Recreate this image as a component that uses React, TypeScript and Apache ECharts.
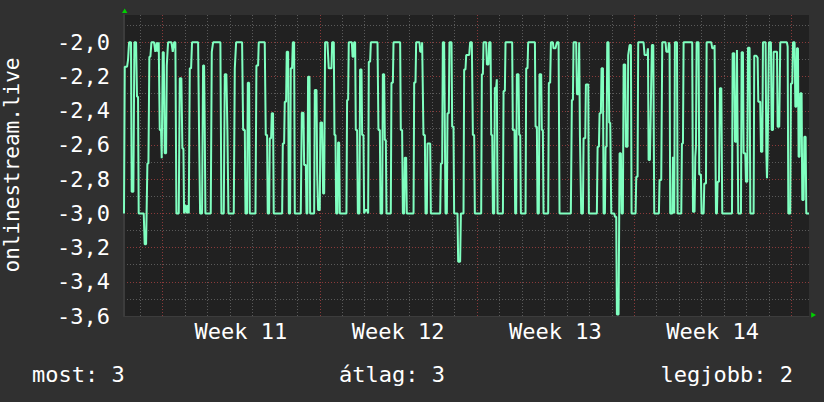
import React, { useEffect, useRef } from "react";
import * as echarts from "echarts";

const FONT = "'DejaVu Sans Mono', monospace";

const axisTitle = "onlinestream.live";
const weekStarts = [0, 168, 336, 504, 672];
const weekMids = [84, 252, 420, 588];
const weekLabels = ["Week 11", "Week 12", "Week 13", "Week 14"];
const dayLines = [-24, 24, 48, 72, 96, 120, 144, 192, 216, 240, 264, 288, 312, 360, 384, 408, 432, 456, 480, 528, 552, 576, 600, 624, 648];
const legendTexts = ["most: 3", "átlag: 3", "legjobb: 2"];

// [hour since start of week 11, value]
const samples: [number, number][] = [
  [-41, -3.0], [-40.2, -2.142], [-37.7, -2.142], [-36.7, -2.103], [-35.6, -2.0], [-33.5, -2.0], [-32.8, -2.873], [-31.0, -2.873],
  [-29.9, -2.0], [-28.1, -2.0], [-27.1, -2.318], [-26.0, -2.318], [-25.3, -3.0], [-19.9, -3.0], [-18.9, -3.181], [-17.4, -3.181],
  [-16.0, -2.708], [-14.9, -2.708], [-13.9, -2.084], [-12.8, -2.084], [-11.7, -2.0], [-8.9, -2.0], [-7.5, -2.055], [-6.0, -2.0],
  [-5.0, -2.055], [-3.9, -2.0], [-2.8, -2.513], [-1.4, -2.513], [-0.7, -2.678], [0.4, -2.058], [1.5, -2.058], [2.5, -2.649],
  [4.0, -2.649], [4.7, -2.136], [6.1, -2.0], [9.7, -2.0], [11.1, -2.055], [12.5, -2.0], [13.9, -2.0], [15.0, -3.0],
  [17.5, -3.0], [18.6, -2.21], [20.3, -2.21], [21.4, -2.62], [22.5, -2.62], [23.2, -3.0], [24.6, -2.951], [26.0, -3.0],
  [27.1, -2.951], [28.2, -3.0], [29.3, -2.152], [30.7, -2.152], [31.7, -2.0], [38.2, -2.0], [39.2, -2.513], [40.3, -3.0],
  [42.4, -3.0], [43.5, -2.136], [44.6, -2.136], [45.3, -2.522], [46.0, -3.0], [51.7, -3.0], [52.8, -2.055], [54.2, -2.0],
  [62.0, -2.0], [63.1, -3.0], [65.6, -3.0], [66.7, -2.187], [68.4, -2.187], [69.5, -2.513], [70.6, -3.0], [76.3, -3.0],
  [77.4, -2.152], [78.8, -2.0],
  [85.2, -2.0], [86.3, -2.513], [88.1, -2.513], [88.8, -3.0], [90.5, -3.0], [91.3, -2.236], [92.7, -2.236], [93.4, -3.0],
  [99.5, -3.0], [100.5, -2.136], [102.3, -2.136], [103.0, -2.0], [109.4, -2.0], [110.5, -2.542], [111.9, -2.542], [112.6, -3.0],
  [114.1, -3.0], [114.8, -2.561], [116.2, -2.561], [116.9, -2.415], [118.3, -2.415], [119.0, -3.0], [128.0, -3.0], [128.7, -2.591],
  [130.1, -2.591], [130.8, -2.347], [132.2, -2.347], [132.9, -2.055], [134.4, -2.055], [135.1, -3.0], [136.5, -3.0], [137.2, -2.152],
  [138.6, -2.152], [139.4, -2.0], [140.8, -2.0], [141.5, -3.0], [147.9, -3.0], [149.0, -2.411], [150.8, -2.411], [151.5, -2.717],
  [153.3, -2.717], [154.0, -3.0], [155.0, -3.0], [155.7, -2.201], [157.2, -2.201], [157.9, -3.0], [162.2, -3.0], [162.9, -2.279],
  [164.7, -2.279], [165.4, -2.756], [166.4, -2.98], [168.2, -2.98], [168.9, -2.468], [170.7, -2.468], [171.8, -2.883], [172.9, -2.883],
  [173.9, -2.0], [176.4, -2.0], [177.8, -2.152], [180.7, -2.152], [181.4, -2.0], [183.2, -2.0], [183.9, -2.542], [185.0, -2.542],
  [185.7, -3.0], [187.1, -3.0], [187.8, -2.585], [188.9, -2.585], [189.6, -3.0], [196.7, -3.0], [197.4, -2.337], [198.5, -2.337],
  [199.2, -2.0], [202.5, -2.0], [203.2, -2.084], [204.2, -2.084], [204.9, -2.0], [206.0, -2.0],
  [206.7, -2.513], [208.1, -2.513], [208.9, -3.0], [210.6, -3.0], [211.3, -2.158], [212.8, -2.158], [213.5, -2.542], [214.9, -2.542],
  [215.6, -3.0], [217.0, -2.98], [218.5, -2.98], [219.9, -3.0], [220.6, -2.113], [222.0, -2.113], [222.8, -2.0], [229.9, -2.0],
  [230.9, -2.513], [232.4, -2.513], [233.1, -3.0], [234.9, -3.0], [235.6, -2.187], [237.0, -2.187], [237.7, -2.571], [238.8, -2.571],
  [239.5, -3.0], [244.1, -3.0], [244.8, -2.236], [246.3, -2.236], [247.0, -2.0], [254.1, -2.0], [254.8, -2.513], [256.2, -2.513],
  [257.0, -3.0], [258.4, -3.0], [259.1, -2.674], [260.5, -2.674], [261.2, -3.0], [268.4, -3.0], [269.1, -2.234], [270.5, -2.234],
  [271.2, -2.0], [274.8, -2.0], [275.5, -2.055], [276.9, -2.055], [277.6, -2.0], [278.3, -2.0], [279.0, -2.542], [280.5, -2.542],
  [281.2, -3.0], [282.6, -3.0], [283.3, -2.591], [286.2, -2.591], [286.9, -3.0], [296.9, -3.0], [297.6, -2.708], [299.0, -2.708],
  [299.7, -2.0], [301.1, -2.0], [302.6, -3.0], [304.0, -3.0], [304.7, -2.415], [306.1, -2.415], [306.8, -2.0], [309.0, -2.0],
  [309.7, -2.493], [311.1, -2.493], [311.8, -3.0], [315.4, -3.0], [316.1, -3.283], [318.2, -3.283], [319.0, -3.0], [321.8, -3.0],
  [322.5, -2.158], [323.9, -2.158], [324.7, -2.074], [327.9, -2.074], [328.9, -2.0],
  [330.7, -2.0], [331.8, -2.542], [333.2, -2.542], [333.9, -3.0], [340.7, -3.0], [341.4, -2.187], [342.5, -2.187], [343.2, -2.0],
  [346.0, -2.0], [346.8, -2.129], [348.5, -2.129], [349.2, -2.0], [350.7, -2.0], [351.4, -2.542], [352.5, -2.542], [353.2, -3.0],
  [354.6, -3.0], [355.3, -2.265], [356.7, -2.265], [357.4, -2.216], [358.2, -3.0], [363.9, -3.0], [364.6, -2.285], [366.0, -2.285],
  [366.7, -2.0], [373.8, -2.0], [374.5, -2.513], [376.3, -2.513], [377.0, -3.0], [378.1, -3.0], [378.8, -2.187], [380.6, -2.187],
  [381.3, -2.542], [382.4, -2.542], [383.1, -3.0], [388.1, -3.0], [388.8, -2.152], [390.2, -2.152], [390.9, -2.0], [398.1, -2.0],
  [398.8, -2.493], [400.2, -2.493], [400.9, -3.0], [402.3, -3.0], [403.0, -2.187], [404.8, -2.187], [405.5, -2.513], [406.6, -2.513],
  [407.3, -3.0], [412.3, -3.0], [413.0, -2.236], [414.4, -2.236], [415.2, -2.0], [417.3, -2.0], [418.0, -2.035], [420.1, -2.035],
  [421.6, -2.0], [423.4, -2.0], [424.4, -3.0], [436.5, -3.0], [437.6, -2.337], [438.7, -2.337], [439.4, -2.0], [442.2, -2.0],
  [443.0, -2.304], [444.7, -2.304], [445.4, -2.0], [446.2, -2.542], [447.6, -3.0], [449.4, -3.0], [450.1, -2.561], [451.9, -2.561],
  [452.6, -2.246], [455.1, -2.246],
  [455.8, -3.0], [464.3, -3.0], [465.1, -2.61], [466.5, -2.61], [467.2, -2.415], [468.6, -2.415], [469.3, -2.152], [470.8, -2.152],
  [471.5, -3.0], [472.9, -3.0], [473.6, -2.61], [474.7, -2.61], [475.4, -2.0], [476.8, -2.0], [477.5, -2.47], [478.6, -2.47],
  [479.7, -3.0], [482.9, -3.0], [483.6, -3.02], [485.0, -3.02], [485.7, -3.591], [487.5, -3.591], [488.6, -2.649], [490.0, -2.649],
  [490.7, -3.0], [492.1, -3.0], [492.9, -2.129], [494.6, -2.129], [495.3, -2.61], [497.1, -2.61], [497.8, -2.074], [499.3, -2.016],
  [500.7, -2.016], [501.4, -3.0], [505.7, -3.0], [506.4, -2.786], [507.8, -2.786], [508.5, -2.0], [514.2, -2.0], [515.3, -2.074],
  [518.1, -2.074], [518.9, -2.035], [519.6, -2.688], [521.0, -2.688], [523.1, -2.016], [524.6, -2.016], [525.6, -3.0], [530.6, -3.0],
  [531.3, -2.805], [533.1, -2.805], [534.2, -2.0], [537.7, -2.0], [538.5, -2.055], [540.6, -2.055], [541.3, -2.0], [542.0, -2.016],
  [542.7, -3.0], [544.9, -3.0], [545.6, -2.669], [546.3, -2.669], [547.0, -3.0], [547.7, -2.0], [549.9, -2.0], [550.6, -3.0],
  [554.5, -3.0], [555.2, -2.591], [556.3, -2.591], [557.0, -2.0], [566.2, -2.0], [567.0, -2.99], [568.7, -2.99], [569.5, -2.669],
  [570.2, -2.61], [570.9, -2.0], [573.0, -2.0], [573.7, -2.772], [575.5, -2.772], [576.2, -3.0],
  [578.4, -3.0], [579.1, -2.825], [580.9, -2.825], [581.6, -2.0], [586.6, -2.0], [587.6, -2.035], [589.4, -2.035], [590.1, -2.016],
  [590.8, -2.016], [591.6, -3.0], [592.6, -3.0], [593.3, -2.815], [594.8, -2.815], [595.8, -2.269], [597.3, -2.269], [598.3, -3.0],
  [608.7, -3.0], [609.4, -2.064], [611.1, -2.064], [611.9, -2.581], [613.3, -2.581], [614.0, -2.045], [614.7, -2.045], [615.4, -3.0],
  [618.3, -3.0], [619.0, -2.058], [620.4, -2.058], [621.1, -2.649], [622.9, -2.649], [623.6, -2.815], [625.0, -2.815], [625.8, -2.031],
  [627.5, -2.031], [628.3, -3.0], [631.8, -3.0], [632.5, -2.078], [634.7, -2.078], [636.1, -2.09], [636.8, -2.347], [638.9, -2.347],
  [639.7, -2.639], [641.1, -2.639], [641.8, -2.0], [644.6, -2.0], [645.4, -2.639], [646.1, -2.795], [646.8, -2.639], [647.5, -2.639],
  [648.2, -2.0], [650.3, -2.0], [651.1, -2.513], [652.5, -2.513], [653.2, -2.055], [656.8, -2.055], [657.5, -2.493], [659.2, -2.493],
  [660.3, -2.0], [667.4, -2.0], [668.2, -2.025], [668.9, -3.0], [671.0, -3.0], [671.7, -2.24], [673.1, -2.24], [673.9, -2.0],
  [675.6, -2.0], [676.4, -2.376], [677.4, -2.376], [678.1, -2.035], [679.2, -2.035], [679.9, -2.669], [681.0, -2.669], [681.7, -2.298],
  [683.1, -2.298], [683.8, -2.922], [685.3, -2.922], [686.0, -2.552], [687.4, -2.552], [688.1, -3.0], [691.0, -3.0],
];

const X_MIN = -41;
const X_MAX = 691;
const Y_MIN = -3.6;
const Y_MAX = -1.84;

const WHITE = "#ffffff";
const MAJOR = "#8a3a3a";
const MINOR = "#5a5a5a";

export default function App() {
  const ref = useRef<HTMLDivElement>(null);
  useEffect(() => {
    if (!ref.current) return;
    const chart = echarts.init(ref.current, null, { renderer: "svg" });
    const textStyle = { fill: WHITE, fontSize: 22, fontFamily: FONT };

    const gridLineItem = (color: string) => (_p: any, api: any) => {
      const h = api.value(0);
      const top = api.coord([h, Y_MAX]);
      const bottom = api.coord([h, Y_MIN]);
      const x = Math.round(top[0]) + 0.5;
      return {
        type: "line",
        shape: { x1: x, y1: top[1], x2: x, y2: bottom[1] + 2 },
        style: { stroke: color, lineWidth: 1, lineDash: [1, 2] },
      };
    };

    chart.setOption({
      animation: false,
      backgroundColor: "#303030",
      grid: { left: 124, top: 15, width: 685, height: 301, show: true, backgroundColor: "#212121", borderWidth: 0 },
      xAxis: {
        type: "value", min: X_MIN, max: X_MAX,
        axisLine: { show: true, onZero: false, lineStyle: { color: "#3c3c3c", width: 1 } },
        axisTick: { show: false }, axisLabel: { show: false }, splitLine: { show: false },
      },
      yAxis: {
        type: "value", min: Y_MIN, max: Y_MAX, interval: 0.1,
        axisLine: { show: true, onZero: false, lineStyle: { color: "#3c3c3c", width: 2 } },
        axisTick: { show: false },
        axisLabel: {
          color: WHITE, fontSize: 22, fontFamily: FONT, margin: 14, showMaxLabel: false,
          formatter: (v: number) => {
            const t = Math.round(v * 10);
            if (Math.abs(v * 10 - t) > 1e-6 || t % 2 !== 0) return "";
            return (t / 10).toFixed(1).replace(".", ",");
          },
        },
        splitLine: { show: true, showMaxLine: false, lineStyle: { color: [MAJOR, MINOR], type: [1, 2], width: 1 } },
      },
      series: [
        {
          type: "custom", name: "days", z: 1, silent: true, clip: false,
          data: dayLines.map((h) => [h]),
          encode: { x: 0 },
          renderItem: gridLineItem(MINOR),
        },
        {
          type: "custom", name: "weeks", z: 1, silent: true, clip: false,
          data: weekStarts.map((h) => [h]),
          encode: { x: 0 },
          renderItem: gridLineItem(MAJOR),
        },
        {
          type: "custom", name: "weekLabels", z: 1, silent: true, clip: false,
          data: weekMids.map((h, i) => [h, i]),
          encode: { x: 0 },
          renderItem: (_p: any, api: any) => {
            const c = api.coord([api.value(0), Y_MIN]);
            return {
              type: "text",
              x: c[0], y: c[1] + 15,
              style: { text: weekLabels[api.value(1)], fill: WHITE, fontSize: 22, fontFamily: FONT, align: "center", verticalAlign: "middle" },
            };
          },
        },
        {
          type: "line", name: axisTitle, data: samples, showSymbol: false, symbol: "none", z: 5,
          lineStyle: { color: "#80ffc0", width: 2 },
        },
      ],
      graphic: [
        { type: "polygon", silent: true, shape: { points: [[124.7, 8.5], [122, 13], [127.4, 13]] }, style: { fill: "#00d000" } },
        { type: "polygon", silent: true, shape: { points: [[816, 315], [811.2, 312.3], [811.2, 317.7]] }, style: { fill: "#00d000" } },
        { type: "text", silent: true, x: 12, y: 165, rotation: Math.PI / 2,
          style: { ...textStyle, fontSize: 21, text: axisTitle, align: "center", verticalAlign: "middle", textAlign: "center", textVerticalAlign: "middle" } },
        { type: "text", silent: true, x: 32, y: 374,
          style: { ...textStyle, text: legendTexts[0], align: "left", verticalAlign: "middle", textAlign: "left", textVerticalAlign: "middle" } },
        { type: "text", silent: true, x: 392, y: 374,
          style: { ...textStyle, text: legendTexts[1], align: "center", verticalAlign: "middle", textAlign: "center", textVerticalAlign: "middle" } },
        { type: "text", silent: true, x: 793, y: 374,
          style: { ...textStyle, text: legendTexts[2], align: "right", verticalAlign: "middle", textAlign: "right", textVerticalAlign: "middle" } },
      ],
    });
    return () => chart.dispose();
  }, []);
  return <div ref={ref} style={{ position: "absolute", left: 0, top: 0, width: 824, height: 402 }} />;
}
